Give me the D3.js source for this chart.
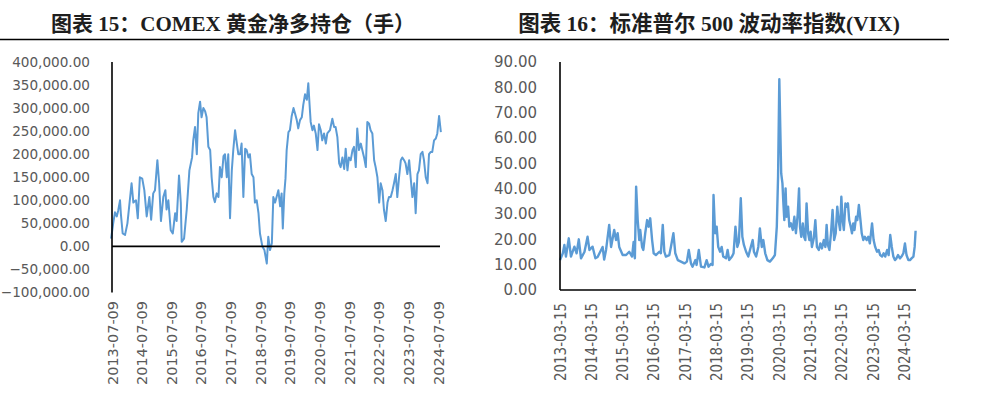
<!DOCTYPE html>
<html><head><meta charset="utf-8">
<script src="https://cdn.jsdelivr.net/npm/d3@7"></script>
<style>
html,body{margin:0;padding:0;background:#fff;}
svg{display:block;}
</style></head>
<body>
<svg id="c" width="988" height="396"></svg>
<script>
// ---------- DATA ----------
const title1 = "图表 15：COMEX 黄金净多持仓（手）";
const title2 = "图表 16：标准普尔 500 波动率指数(VIX)";

// COMEX gold net long (contracts); time as decimal year
const gTime = [2013.49,2013.56,2013.62,2013.68,2013.73,2013.79,2013.82,2013.88,2013.96,2014.04,2014.18,2014.24,2014.33,2014.39,2014.46,2014.54,2014.61,2014.69,2014.78,2014.84,2014.91,2014.97,2015.05,2015.11,2015.17,2015.25,2015.32,2015.36,2015.42,2015.50,2015.57,2015.65,2015.70,2015.78,2015.84,2015.87,2015.95,2016.04,2016.13,2016.22,2016.26,2016.32,2016.38,2016.43,2016.49,2016.54,2016.60,2016.66,2016.71,2016.77,2016.83,2016.88,2016.94,2016.99,2017.05,2017.11,2017.16,2017.22,2017.28,2017.33,2017.39,2017.44,2017.50,2017.56,2017.61,2017.67,2017.73,2017.78,2017.84,2017.89,2017.95,2018.01,2018.06,2018.12,2018.17,2018.23,2018.29,2018.34,2018.40,2018.46,2018.51,2018.59,2018.66,2018.74,2018.79,2018.85,2018.91,2018.96,2019.02,2019.07,2019.13,2019.19,2019.24,2019.28,2019.33,2019.37,2019.41,2019.47,2019.52,2019.58,2019.64,2019.69,2019.75,2019.80,2019.86,2019.92,2019.97,2020.03,2020.09,2020.14,2020.18,2020.22,2020.28,2020.33,2020.39,2020.45,2020.50,2020.56,2020.61,2020.67,2020.73,2020.78,2020.87,2020.95,2021.01,2021.06,2021.12,2021.18,2021.23,2021.29,2021.35,2021.40,2021.46,2021.51,2021.57,2021.63,2021.68,2021.74,2021.79,2021.85,2021.91,2021.96,2022.02,2022.08,2022.13,2022.19,2022.24,2022.30,2022.36,2022.41,2022.47,2022.53,2022.58,2022.64,2022.69,2022.75,2022.81,2022.86,2022.92,2022.98,2023.03,2023.09,2023.14,2023.20,2023.26,2023.31,2023.37,2023.42,2023.48,2023.54,2023.59,2023.65,2023.71,2023.76,2023.82,2023.87,2023.93,2023.99,2024.04,2024.10,2024.16,2024.21,2024.27,2024.32,2024.38,2024.44,2024.49,2024.55,2024.61];
const gValue = [17000,50000,74000,65000,78000,100000,70000,28000,25000,50000,137000,95000,100000,61000,150000,147000,122000,65000,107000,58000,115000,122000,187000,137000,55000,107000,122000,80000,100000,35000,28000,72000,55000,154000,95000,10000,17000,80000,165000,193000,230000,259000,200000,289000,314000,280000,300000,293000,280000,216000,209000,150000,107000,96000,115000,107000,172000,150000,196000,200000,150000,200000,61000,165000,209000,252000,223000,200000,200000,223000,107000,212000,209000,193000,200000,157000,150000,95000,100000,72000,28000,0,-8000,-37000,21000,-8000,7000,107000,95000,107000,122000,87000,115000,39000,115000,147000,209000,248000,252000,283000,300000,289000,274000,256000,274000,280000,307000,330000,318000,354000,310000,270000,252000,262000,245000,209000,265000,252000,230000,245000,223000,245000,252000,277000,259000,259000,237000,180000,172000,193000,168000,212000,165000,193000,187000,209000,216000,172000,256000,209000,223000,209000,193000,172000,270000,266000,252000,245000,187000,172000,150000,95000,137000,122000,80000,55000,95000,107000,107000,122000,137000,157000,107000,150000,187000,193000,187000,180000,157000,187000,150000,107000,137000,72000,157000,165000,200000,205000,187000,150000,137000,200000,205000,205000,230000,234000,245000,283000,248000];

// VIX; time as decimal year
const vTime = [2013.20,2013.29,2013.34,2013.39,2013.48,2013.55,2013.66,2013.73,2013.80,2013.87,2013.98,2014.08,2014.14,2014.24,2014.33,2014.40,2014.46,2014.56,2014.61,2014.67,2014.77,2014.83,2014.93,2014.99,2015.04,2015.09,2015.20,2015.31,2015.41,2015.50,2015.55,2015.59,2015.63,2015.68,2015.73,2015.76,2015.82,2015.86,2015.92,2015.98,2016.03,2016.08,2016.14,2016.19,2016.26,2016.37,2016.42,2016.48,2016.53,2016.58,2016.69,2016.74,2016.82,2016.88,2016.96,2017.06,2017.17,2017.25,2017.31,2017.38,2017.43,2017.52,2017.56,2017.63,2017.70,2017.81,2017.88,2017.94,2018.02,2018.07,2018.10,2018.15,2018.20,2018.25,2018.31,2018.36,2018.41,2018.50,2018.55,2018.60,2018.69,2018.74,2018.80,2018.86,2018.91,2018.97,2019.02,2019.07,2019.14,2019.21,2019.29,2019.35,2019.39,2019.46,2019.53,2019.58,2019.64,2019.69,2019.75,2019.82,2019.90,2019.99,2020.06,2020.12,2020.16,2020.20,2020.23,2020.26,2020.30,2020.33,2020.36,2020.40,2020.43,2020.48,2020.52,2020.57,2020.63,2020.68,2020.73,2020.79,2020.83,2020.86,2020.90,2020.95,2020.99,2021.03,2021.07,2021.12,2021.16,2021.20,2021.24,2021.30,2021.35,2021.40,2021.46,2021.51,2021.56,2021.62,2021.67,2021.71,2021.75,2021.80,2021.85,2021.90,2021.95,2022.00,2022.05,2022.09,2022.14,2022.18,2022.22,2022.26,2022.31,2022.35,2022.39,2022.43,2022.48,2022.52,2022.56,2022.60,2022.65,2022.69,2022.74,2022.79,2022.83,2022.88,2022.93,2022.99,2023.04,2023.09,2023.16,2023.21,2023.26,2023.32,2023.37,2023.42,2023.48,2023.53,2023.58,2023.64,2023.69,2023.74,2023.79,2023.84,2023.89,2023.94,2023.99,2024.05,2024.10,2024.16,2024.21,2024.26,2024.32,2024.37,2024.42,2024.48,2024.52,2024.55];
const vValue = [11.8,14.5,17.8,13.2,20.4,13.2,17.1,14.5,20.0,12.5,15.0,21.0,15.8,17.1,12.5,13.0,14.5,17.0,12.0,15.8,25.7,17.0,23.7,19.7,22.4,17.0,13.8,13.8,15.1,13.2,19.0,12.5,40.8,27.6,19.7,23.7,17.0,15.8,22.4,27.6,25.0,28.3,19.7,14.5,13.8,15.1,14.5,25.7,15.1,13.2,13.8,17.0,22.4,14.5,11.8,11.2,10.5,11.2,15.8,10.5,9.2,11.8,9.9,15.8,9.2,8.9,11.8,9.2,10.3,9.9,37.5,22.4,25.0,17.0,15.1,17.0,13.2,12.5,15.8,11.8,13.2,14.5,25.0,17.0,19.0,36.2,21.0,17.8,15.1,13.2,17.0,19.7,15.1,13.2,17.0,24.3,17.0,19.7,14.5,11.8,11.2,12.5,13.8,25.0,44.7,83.2,64.5,46.0,42.1,34.2,27.6,40.1,28.9,32.9,25.0,26.3,23.7,28.9,22.4,30.3,40.1,25.0,21.0,26.3,21.0,19.7,34.2,22.4,19.7,23.0,17.0,20.4,27.6,17.0,15.8,18.4,16.4,19.7,17.0,25.7,17.8,15.8,22.4,31.6,19.7,22.4,32.9,27.6,23.7,36.8,27.6,23.7,34.2,32.9,34.2,27.6,25.0,22.4,26.3,23.7,28.9,27.6,33.6,27.6,22.4,19.7,21.0,19.7,21.0,18.4,26.3,19.7,17.0,15.1,15.8,13.8,13.2,14.5,13.2,15.8,13.8,21.7,17.0,13.2,11.8,12.5,13.8,12.5,13.2,14.5,18.4,13.8,11.8,11.8,12.5,13.2,17.0,23.4];

const gYTicks = [-100000,-50000,0,50000,100000,150000,200000,250000,300000,350000,400000];
const vYTicks = [0,10,20,30,40,50,60,70,80,90];
const gXLabels = ["2013-07-09","2014-07-09","2015-07-09","2016-07-09","2017-07-09","2018-07-09","2019-07-09","2020-07-09","2021-07-09","2022-07-09","2023-07-09","2024-07-09"];
const vXLabels = ["2013-03-15","2014-03-15","2015-03-15","2016-03-15","2017-03-15","2018-03-15","2019-03-15","2020-03-15","2021-03-15","2022-03-15","2023-03-15","2024-03-15"];
const gXTickPos = [2013.52,2014.52,2015.52,2016.52,2017.52,2018.52,2019.52,2020.52,2021.52,2022.52,2023.52,2024.52];
const vXTickPos = [2013.20,2014.20,2015.20,2016.20,2017.20,2018.20,2019.20,2020.20,2021.20,2022.20,2023.20,2024.20];

// ---------- DRAW ----------
const svg = d3.select("#c");
const LINE = "#5B9BD5", TXT = "#595959";

// titles
const tf = "'Liberation Serif','Noto Sans CJK SC',serif";
svg.append("text").attr("x",233).attr("y",31).attr("text-anchor","middle")
  .attr("font-family",tf).attr("font-weight","bold").attr("font-size",21).attr("fill","#1e1e1e").text(title1);
svg.append("text").attr("x",709).attr("y",31).attr("text-anchor","middle")
  .attr("font-family",tf).attr("font-weight","bold").attr("font-size",21.5).attr("fill","#1e1e1e").text(title2);
svg.append("line").attr("x1",0).attr("x2",949).attr("y1",39.5).attr("y2",39.5).attr("stroke","#000").attr("stroke-width",1.5);

function drawChart(o){
  const g = svg.append("g");
  const x = d3.scaleLinear().domain(o.xDom).range(o.xRange);
  const y = d3.scaleLinear().domain(o.yDom).range(o.yRange);
  // y axis labels
  const ya = d3.axisLeft(y).tickValues(o.yTicks).tickSize(0).tickPadding(0).tickFormat(o.yFmt);
  const yg = g.append("g").attr("transform",`translate(${o.yLabelX},0)`).call(ya);
  yg.select(".domain").remove();
  yg.selectAll("text").attr("font-family","'DejaVu Sans',sans-serif").attr("font-size",o.yFs).attr("fill",TXT);
  // x axis labels
  const xa = d3.axisBottom(x).tickValues(o.xTicks).tickSize(0).tickPadding(0)
     .tickFormat((d,i)=>o.xLabels[i]);
  const xg = g.append("g").attr("transform",`translate(0,${o.xLabelY})`).call(xa);
  xg.select(".domain").remove();
  xg.selectAll("text").attr("font-family","'DejaVu Sans',sans-serif").attr("font-size",o.xFs).attr("fill",TXT)
    .attr("text-anchor","end").attr("dy",null).attr("y",0).attr("x",0)
    .attr("transform","rotate(-90)").attr("dominant-baseline","central")
    .attr("textLength",o.xLen).attr("lengthAdjust","spacingAndGlyphs");
  // line
  const data = o.t.map((t,i)=>[t,o.v[i]]);
  g.append("path").datum(data).attr("fill","none").attr("stroke",LINE).attr("stroke-width",o.lw)
    .attr("stroke-linejoin","round").attr("d",d3.line().x(d=>x(d[0])).y(d=>y(d[1])));
  // axes lines
  g.append("line").attr("x1",o.xRange[0]).attr("x2",o.xRange[0]).attr("y1",o.yRange[1]).attr("y2",o.yRange[0])
    .attr("stroke","#000").attr("stroke-width",1.6);
  g.append("line").attr("x1",o.xRange[0]).attr("x2",o.xEnd).attr("y1",y(0)).attr("y2",y(0))
    .attr("stroke","#000").attr("stroke-width",1.6);
}

drawChart({t:gTime,v:gValue,xDom:[2013.52,2024.52],xRange:[112,438.2],xEnd:440,
  yDom:[-100000,400000],yRange:[292.5,62],yTicks:gYTicks,yFmt:d3.format(",.2f"),yLabelX:90,yFs:13.6,
  xTicks:gXTickPos,xLabels:gXLabels,xLabelY:301,xFs:14,xLen:84,lw:2});
drawChart({t:vTime,v:vValue,xDom:[2013.2,2024.55],xRange:[560,915.6],xEnd:916,
  yDom:[0,90],yRange:[290,62],yTicks:vYTicks,yFmt:d3.format(".2f"),yLabelX:537,yFs:15,
  xTicks:vXTickPos,xLabels:vXLabels,xLabelY:303,xFs:15.5,xLen:78,lw:2.4});
</script>
</body></html>
